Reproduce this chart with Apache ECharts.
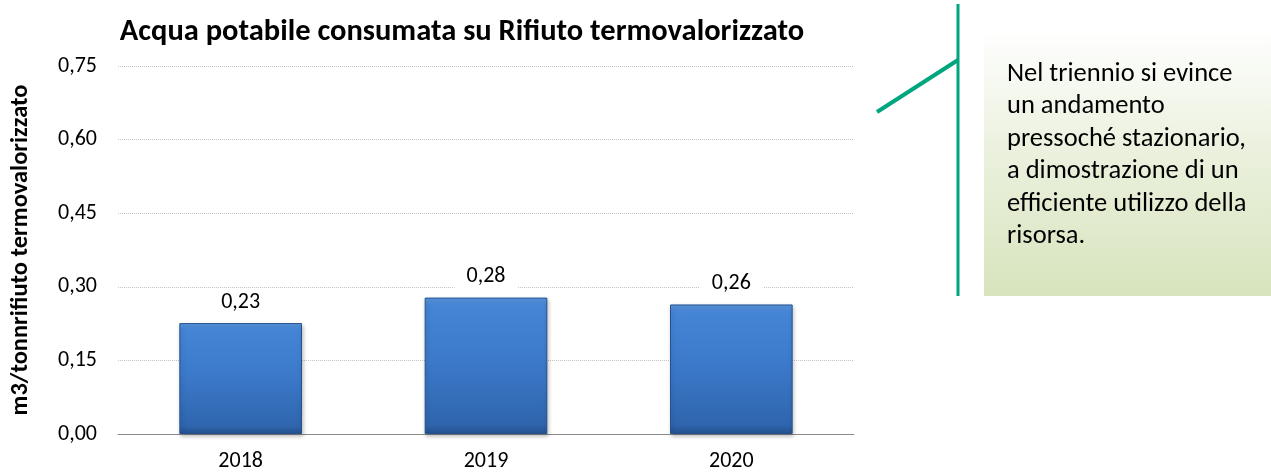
<!DOCTYPE html>
<html>
<head>
<meta charset="utf-8">
<script src="https://cdn.jsdelivr.net/npm/echarts@6/dist/echarts.min.js"></script>
<style>
  html, body { margin: 0; padding: 0; background: #fff; }
  #chart { width: 1271px; height: 472px; }
</style>
</head>
<body>
<div id="chart"></div>
<script>
// Water consumed per tonne of waste sent to the waste-to-energy plant
const years = ['2018', '2019', '2020'];
const waterPerTonne = [0.226, 0.278, 0.264];
const yTicks = [0, 0.15, 0.30, 0.45, 0.60, 0.75];
const noteLines = [
  'Nel triennio si evince',
  'un andamento',
  'pressoché stazionario,',
  'a dimostrazione di un',
  'efficiente utilizzo della',
  'risorsa.'
];

const FONT = 'Carlito, Lato, "Open Sans", sans-serif';
const fmt = v => v.toFixed(2).replace('.', ',');

const chart = echarts.init(document.getElementById('chart'), null, { renderer: 'canvas' });

const barFill = new echarts.graphic.LinearGradient(0, 0, 0, 1, [
  { offset: 0, color: '#5b97e0' },
  { offset: 0.06, color: '#4585d6' },
  { offset: 0.5, color: '#3b78c8' },
  { offset: 0.93, color: '#2f65ad' },
  { offset: 1, color: '#24508e' }
]);

chart.setOption({
  animation: false,
  title: {
    text: 'Acqua potabile consumata su Rifiuto termovalorizzato',
    left: 457,
    textAlign: 'center',
    top: 12,
    textStyle: { fontFamily: FONT, fontSize: 30.5, fontWeight: 'bold', color: '#000' }
  },
  grid: { left: 118, right: 1271 - 854, top: 66, bottom: 472 - 435 },
  xAxis: {
    type: 'category',
    data: years,
    axisTick: { show: false },
    axisLine: { lineStyle: { color: '#8c8c8c', width: 1 } },
    axisLabel: { fontFamily: FONT, fontSize: 22, color: '#000', margin: 16 }
  },
  yAxis: {
    type: 'value',
    min: yTicks[0],
    max: yTicks[yTicks.length - 1],
    interval: yTicks[1] - yTicks[0],
    name: 'm3/tonnrifiuto termovalorizzato',
    nameLocation: 'middle',
    nameGap: 85,
    nameTextStyle: { fontFamily: FONT, fontSize: 24.5, fontWeight: 'bold', color: '#000' },
    axisLine: { show: false },
    axisTick: { show: false },
    axisLabel: { fontFamily: FONT, fontSize: 22, color: '#000', margin: 21, formatter: v => fmt(v) },
    splitLine: { lineStyle: { color: '#c4c4c4', type: [1, 1], width: 1 } }
  },
  series: [{
    type: 'bar',
    data: waterPerTonne,
    barWidth: '50%',
    itemStyle: {
      color: barFill,
      borderColor: '#24528f',
      borderWidth: 1,
      shadowColor: 'rgba(0,0,0,0.25)',
      shadowBlur: 4,
      shadowOffsetX: 1,
      shadowOffsetY: 2
    },
    label: {
      show: true,
      position: 'top',
      distance: 8,
      formatter: p => fmt(p.value),
      fontFamily: FONT,
      fontSize: 22,
      color: '#000',
      backgroundColor: '#fff',
      padding: [2, 12]
    }
  }],
  graphic: [
    // shaded note box
    {
      type: 'rect',
      shape: { x: 984, y: 29, width: 287, height: 267 },
      style: {
        fill: new echarts.graphic.LinearGradient(0, 0, 0, 1, [
          { offset: 0, color: '#ffffff' },
          { offset: 0.45, color: '#ebf1de' },
          { offset: 1, color: '#d7e4bd' }
        ])
      },
      z: 1
    },
    // callout pointer
    {
      type: 'line',
      shape: { x1: 958, y1: 4, x2: 958, y2: 296 },
      style: { stroke: '#00a67d', lineWidth: 3 },
      z: 2
    },
    {
      type: 'line',
      shape: { x1: 958, y1: 60, x2: 877, y2: 112 },
      style: { stroke: '#00a67d', lineWidth: 4 },
      z: 2
    },
    {
      type: 'text',
      left: 1007,
      top: 58,
      style: {
        text: noteLines.join('\n'),
        fontFamily: FONT,
        fontSize: 26.5,
        lineHeight: 32.5,
        fill: '#000'
      },
      z: 3
    }
  ]
});
</script>
</body>
</html>
